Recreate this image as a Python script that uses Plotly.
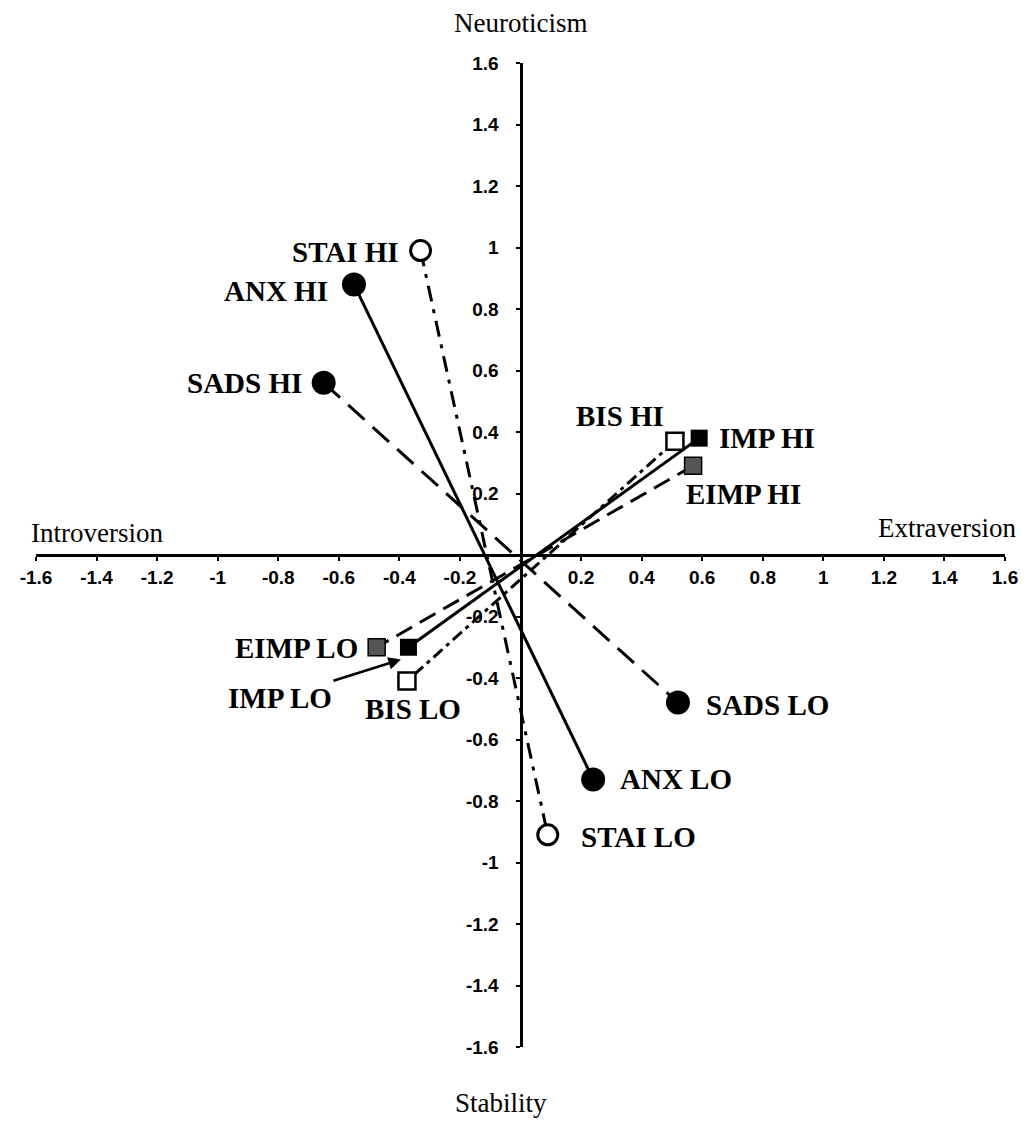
import plotly.graph_objects as go

# ---- data ----
groups = ["ANX", "SADS", "STAI", "IMP", "EIMP", "BIS"]
hi_x = [-0.55, -0.65, -0.33, 0.59, 0.57, 0.51]
hi_y = [0.88, 0.56, 0.99, 0.38, 0.29, 0.37]
lo_x = [0.24, 0.52, 0.09, -0.37, -0.475, -0.375]
lo_y = [-0.73, -0.48, -0.91, -0.30, -0.30, -0.41]

tick_vals = [-1.6, -1.4, -1.2, -1.0, -0.8, -0.6, -0.4, -0.2,
             0.2, 0.4, 0.6, 0.8, 1.0, 1.2, 1.4, 1.6]
tick_text = ["-1.6", "-1.4", "-1.2", "-1", "-0.8", "-0.6", "-0.4", "-0.2",
             "0.2", "0.4", "0.6", "0.8", "1", "1.2", "1.4", "1.6"]

# ---- styles ----
dash = {"ANX": "solid", "SADS": "22px,11px", "STAI": "16px,8px,4px,8px",
        "IMP": "solid", "EIMP": "18px,9px", "BIS": "12px,5px,4px,5px"}
msym = {"ANX": "circle", "SADS": "circle", "STAI": "circle",
        "IMP": "square", "EIMP": "square", "BIS": "square"}
mfill = {"ANX": "black", "SADS": "black", "STAI": "white",
         "IMP": "black", "EIMP": "#555555", "BIS": "white"}
msize = {"ANX": 24, "SADS": 24, "STAI": 20,
         "IMP": 17, "EIMP": 17, "BIS": 17}
mline = {"ANX": 0, "SADS": 0, "STAI": 3, "IMP": 0, "EIMP": 1.5, "BIS": 2.5}

fig = go.Figure()
for i, g in enumerate(groups):
    fig.add_trace(go.Scatter(
        x=[hi_x[i], lo_x[i]], y=[hi_y[i], lo_y[i]], mode="lines",
        line=dict(color="black", width=3, dash=dash[g]),
        hoverinfo="skip", showlegend=False))
for i, g in enumerate(groups):
    fig.add_trace(go.Scatter(
        x=[hi_x[i], lo_x[i]], y=[hi_y[i], lo_y[i]], mode="markers",
        marker=dict(symbol=msym[g], size=msize[g], color=mfill[g],
                    line=dict(color="black", width=mline[g])),
        name=g, showlegend=False))

lab_font = dict(family="Liberation Serif", size=29, color="black")
# (group, HI/LO): (xanchor, xshift, yshift)
label_pos = {
    ("ANX", "HI"): ("right", -24, -7),
    ("SADS", "HI"): ("right", -20, 0),
    ("STAI", "HI"): ("right", -20, -1),
    ("IMP", "HI"): ("left", 18, 0),
    ("EIMP", "HI"): ("left", -9, -28),
    ("BIS", "HI"): ("center", -55, 25),
    ("ANX", "LO"): ("left", 25, 0),
    ("SADS", "LO"): ("left", 26, -2),
    ("STAI", "LO"): ("left", 31, -2),
    ("EIMP", "LO"): ("right", -17, -1),
    ("BIS", "LO"): ("center", 6, -28),
}
for i, g in enumerate(groups):
    for side, xx, yy in (("HI", hi_x[i], hi_y[i]), ("LO", lo_x[i], lo_y[i])):
        if (g, side) not in label_pos:
            continue
        xa, xs, ys = label_pos[(g, side)]
        fig.add_annotation(x=xx, y=yy, xref="x", yref="y",
                           text="<b>%s %s</b>" % (g, side), showarrow=False,
                           xanchor=xa, yanchor="middle", xshift=xs, yshift=ys,
                           font=lab_font)

# IMP LO label with arrow pointing at its marker
imp = groups.index("IMP")
fig.add_annotation(x=lo_x[imp] - 0.025, y=lo_y[imp] - 0.04, xref="x", yref="y",
                   text="<b>IMP LO</b>", showarrow=True, arrowhead=2,
                   arrowsize=1, arrowwidth=2.5, arrowcolor="black",
                   ax=-121, ay=38, standoff=0, startstandoff=0,
                   font=lab_font)

title_font = dict(family="Liberation Serif", size=27, color="black")
fig.add_annotation(x=0.5, y=1.0405, xref="paper", yref="paper", text="Neuroticism",
                   showarrow=False, xanchor="center", yanchor="middle", font=title_font)
fig.add_annotation(x=0.4795, y=-0.0569, xref="paper", yref="paper", text="Stability",
                   showarrow=False, xanchor="center", yanchor="middle", font=title_font)
fig.add_annotation(x=-0.007, y=0.5224, xref="paper", yref="paper", text="Introversion",
                   showarrow=False, xanchor="left", yanchor="middle", font=title_font)
fig.add_annotation(x=1.0133, y=0.5274, xref="paper", yref="paper", text="Extraversion",
                   showarrow=False, xanchor="right", yanchor="middle", font=title_font)

tick_font = dict(family="Liberation Sans", size=19, color="black", weight="bold")
axis_common = dict(range=[-1.6, 1.6], showgrid=False, zeroline=False,
                   showline=True, linecolor="black", linewidth=3,
                   ticks="outside", ticklen=4, tickwidth=2, tickcolor="black",
                   tickvals=tick_vals, ticktext=tick_text, tickfont=tick_font,
                   anchor="free", position=0.5, fixedrange=True)
fig.update_layout(
    width=1024, height=1119,
    margin=dict(l=21, r=27, t=55, b=80),
    paper_bgcolor="white", plot_bgcolor="white",
    xaxis=dict(**axis_common, ticklabelstandoff=0),
    yaxis=dict(**axis_common, ticklabelstandoff=13),
    showlegend=False,
)
fig.write_html("out.html")
